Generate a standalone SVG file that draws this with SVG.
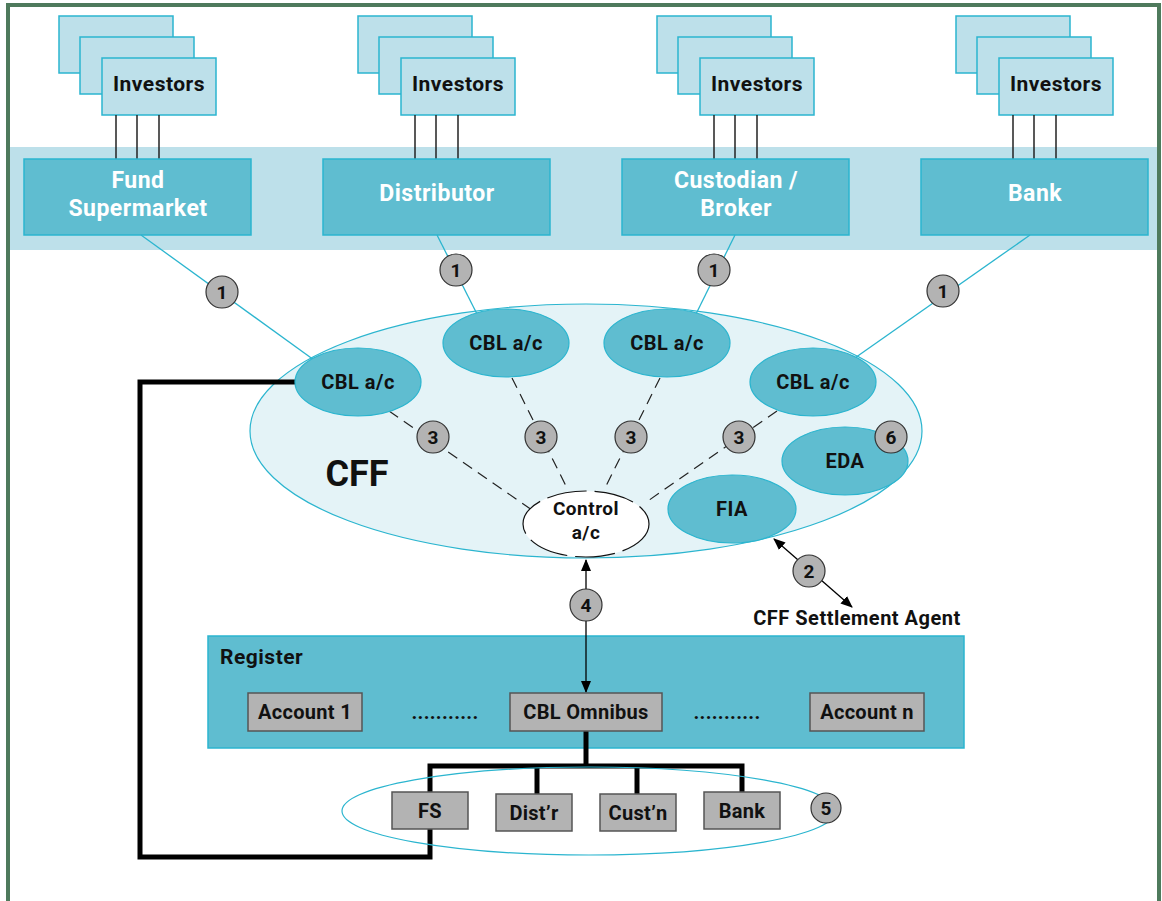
<svg xmlns="http://www.w3.org/2000/svg" width="1162" height="901" viewBox="0 0 1162 901">
<defs>
<style>
text{font-family:Roboto,"DejaVu Sans",sans-serif;font-weight:bold;text-anchor:middle}
.inv{fill:#bde0ea;stroke:#2bb5cf;stroke-width:1.5}
.box{fill:#5fbdd0;stroke:#2bb5cf;stroke-width:1.5}
.wt{fill:#fff;font-size:23px;letter-spacing:0.5px}
.bt{fill:#111;font-size:21px;letter-spacing:0.5px}
.cbl{fill:#5fbdd0;stroke:#2bb5cf;stroke-width:1.2}
.num{fill:#b3b3b3;stroke:#333;stroke-width:1.2}
.nt{fill:#111;font-size:19px}
.gray{fill:#b3b3b3;stroke:#555;stroke-width:1.5}
.gt{fill:#111;font-size:20px;letter-spacing:0.3px}
.tl{stroke:#2bb5cf;stroke-width:1.3;fill:none}
.dash{stroke:#222;stroke-width:1.2;stroke-dasharray:11 7;fill:none}
.thick{stroke:#000;stroke-width:5;fill:none}
.il{stroke:#222;stroke-width:1.5}
</style>
<marker id="ah" viewBox="0 0 12 10" refX="11" refY="5" markerWidth="12" markerHeight="10" markerUnits="userSpaceOnUse" orient="auto-start-reverse">
<path d="M0,0 L12,5 L0,10 Z" fill="#000"/>
</marker>
</defs>
<rect x="0" y="0" width="1162" height="901" fill="#fff"/>
<rect x="8" y="5" width="1151" height="910" fill="#fff" stroke="#4e7a5c" stroke-width="4"/>
<rect id="band" x="10" y="147" width="1147" height="103" fill="#bde0ea"/>

<g id="investors-1">
<rect class="inv" x="59" y="16" width="114" height="57"/>
<rect class="inv" x="80" y="37" width="114" height="57"/>
<rect class="inv" x="102" y="58" width="114" height="57"/>
<text class="bt" x="159" y="91">Investors</text>
<line class="il" x1="116" y1="115" x2="116" y2="160"/><line class="il" x1="137" y1="115" x2="137" y2="160"/><line class="il" x1="159" y1="115" x2="159" y2="160"/>
</g>
<g id="investors-2">
<rect class="inv" x="358" y="16" width="114" height="57"/>
<rect class="inv" x="379" y="37" width="114" height="57"/>
<rect class="inv" x="401" y="58" width="114" height="57"/>
<text class="bt" x="458" y="91">Investors</text>
<line class="il" x1="415" y1="115" x2="415" y2="160"/><line class="il" x1="436" y1="115" x2="436" y2="160"/><line class="il" x1="458" y1="115" x2="458" y2="160"/>
</g>
<g id="investors-3">
<rect class="inv" x="657" y="16" width="114" height="57"/>
<rect class="inv" x="678" y="37" width="114" height="57"/>
<rect class="inv" x="700" y="58" width="114" height="57"/>
<text class="bt" x="757" y="91">Investors</text>
<line class="il" x1="714" y1="115" x2="714" y2="160"/><line class="il" x1="735" y1="115" x2="735" y2="160"/><line class="il" x1="757" y1="115" x2="757" y2="160"/>
</g>
<g id="investors-4">
<rect class="inv" x="956" y="16" width="114" height="57"/>
<rect class="inv" x="977" y="37" width="114" height="57"/>
<rect class="inv" x="999" y="58" width="114" height="57"/>
<text class="bt" x="1056" y="91">Investors</text>
<line class="il" x1="1013" y1="115" x2="1013" y2="160"/><line class="il" x1="1034" y1="115" x2="1034" y2="160"/><line class="il" x1="1056" y1="115" x2="1056" y2="160"/>
</g>

<g id="fund-supermarket"><rect class="box" x="24" y="159" width="227" height="76"/><text class="wt" x="138" y="188">Fund</text><text class="wt" x="138" y="216">Supermarket</text></g>
<g id="distributor"><rect class="box" x="323" y="159" width="227" height="76"/><text class="wt" x="437" y="201">Distributor</text></g>
<g id="custodian"><rect class="box" x="622" y="159" width="227" height="76"/><text class="wt" x="736" y="188">Custodian /</text><text class="wt" x="736" y="216">Broker</text></g>
<g id="bank"><rect class="box" x="921" y="159" width="227" height="76"/><text class="wt" x="1035" y="201">Bank</text></g>

<g id="cff"><ellipse cx="586" cy="431" rx="336" ry="127" fill="#e4f3f7" stroke="#2bb5cf" stroke-width="1.2"/><text x="357" y="486" style="font-size:36px;fill:#111">CFF</text></g>

<g id="register">
<rect class="box" x="208" y="636" width="756" height="112"/>
<text class="bt" x="220" y="664" style="font-size:21px;text-anchor:start">Register</text>
</g>

<g id="connectors">
<line class="tl" x1="141" y1="235" x2="314" y2="360"/>
<line class="tl" x1="437" y1="235" x2="477" y2="314"/>
<line class="tl" x1="735" y1="235" x2="696" y2="314"/>
<line class="tl" x1="1030" y1="235" x2="852" y2="360"/>
<line class="dash" x1="389" y1="411" x2="532" y2="510"/>
<line class="dash" x1="512" y1="378" x2="568" y2="490"/>
<line class="dash" x1="660" y1="378" x2="604" y2="490"/>
<line class="dash" x1="777" y1="411" x2="645" y2="503"/>
<polyline class="thick" points="310,382 140,382 140,857 430,857 430,828"/>
<polyline class="thick" points="586,729 586,766"/>
<polyline class="thick" points="430,792 430,766 742,766 742,792"/>
<line class="thick" x1="537" y1="766" x2="537" y2="794"/>
<line class="thick" x1="637" y1="766" x2="637" y2="794"/>
<line x1="586" y1="560" x2="586" y2="692" stroke="#000" stroke-width="1.3" marker-start="url(#ah)" marker-end="url(#ah)"/>
<line x1="774" y1="539" x2="852" y2="607" stroke="#000" stroke-width="1.3" marker-start="url(#ah)" marker-end="url(#ah)"/>
</g>

<g id="cbl-1"><ellipse class="cbl" cx="358" cy="382" rx="63" ry="34"/><text class="bt" x="358" y="389" style="font-size:20px">CBL a/c</text></g>
<g id="cbl-2"><ellipse class="cbl" cx="506" cy="343" rx="63" ry="34"/><text class="bt" x="506" y="350" style="font-size:20px">CBL a/c</text></g>
<g id="cbl-3"><ellipse class="cbl" cx="667" cy="343" rx="63" ry="34"/><text class="bt" x="667" y="350" style="font-size:20px">CBL a/c</text></g>
<g id="cbl-4"><ellipse class="cbl" cx="813" cy="382" rx="63" ry="34"/><text class="bt" x="813" y="389" style="font-size:20px">CBL a/c</text></g>
<g id="eda"><ellipse class="cbl" cx="845" cy="461" rx="63" ry="34"/><text class="bt" x="845" y="468" style="font-size:20px">EDA</text></g>
<g id="fia"><ellipse class="cbl" cx="732" cy="509" rx="64" ry="34"/><text class="bt" x="732" y="516" style="font-size:20px">FIA</text></g>
<g id="control"><ellipse cx="586" cy="524" rx="63" ry="33" fill="#fff" stroke="#111" stroke-width="1.2" stroke-dasharray="40 8"/><text class="bt" x="586" y="515" style="font-size:19px">Control</text><text class="bt" x="586" y="539" style="font-size:19px">a/c</text></g>

<g id="n1a"><circle class="num" cx="222" cy="292" r="16"/><text class="nt" x="222" y="299">1</text></g>
<g id="n1b"><circle class="num" cx="456" cy="270" r="16"/><text class="nt" x="456" y="277">1</text></g>
<g id="n1c"><circle class="num" cx="714" cy="270" r="16"/><text class="nt" x="714" y="277">1</text></g>
<g id="n1d"><circle class="num" cx="943" cy="291" r="16"/><text class="nt" x="943" y="298">1</text></g>
<g id="n3a"><circle class="num" cx="433" cy="437" r="16"/><text class="nt" x="433" y="444">3</text></g>
<g id="n3b"><circle class="num" cx="541" cy="437" r="16"/><text class="nt" x="541" y="444">3</text></g>
<g id="n3c"><circle class="num" cx="631" cy="437" r="16"/><text class="nt" x="631" y="444">3</text></g>
<g id="n3d"><circle class="num" cx="739" cy="437" r="16"/><text class="nt" x="739" y="444">3</text></g>
<g id="n6"><circle class="num" cx="891" cy="437" r="16"/><text class="nt" x="891" y="444">6</text></g>
<g id="n2"><circle class="num" cx="809" cy="571" r="16"/><text class="nt" x="809" y="578">2</text></g>
<g id="n4"><circle class="num" cx="586" cy="605" r="16"/><text class="nt" x="586" y="612">4</text></g>

<g id="settlement-agent"><text class="bt" x="857" y="625" style="font-size:20px">CFF Settlement Agent</text></g>

<g id="account-1"><rect class="gray" x="248" y="693" width="114" height="38"/><text class="gt" x="305" y="719">Account 1</text></g>
<text x="445" y="719" class="gt">...........</text>
<g id="cbl-omnibus"><rect class="gray" x="510" y="693" width="152" height="38"/><text class="gt" x="586" y="719">CBL Omnibus</text></g>
<text x="727" y="719" class="gt">...........</text>
<g id="account-n"><rect class="gray" x="810" y="693" width="114" height="38"/><text class="gt" x="867" y="719">Account n</text></g>

<g id="sub-accounts">
<ellipse cx="589" cy="811" rx="247" ry="44" fill="none" stroke="#2bb5cf" stroke-width="1.2"/>
</g>
<g id="fs"><rect class="gray" x="392" y="792" width="76" height="37"/><text class="gt" x="430" y="818">FS</text></g>
<g id="distr"><rect class="gray" x="496" y="794" width="76" height="37"/><text class="gt" x="534" y="820">Dist’r</text></g>
<g id="custn"><rect class="gray" x="600" y="794" width="76" height="37"/><text class="gt" x="638" y="820">Cust’n</text></g>
<g id="bank-acct"><rect class="gray" x="704" y="792" width="76" height="37"/><text class="gt" x="742" y="818">Bank</text></g>
<g id="n5"><circle class="num" cx="826" cy="808" r="15"/><text class="nt" x="826" y="815">5</text></g>
</svg>
